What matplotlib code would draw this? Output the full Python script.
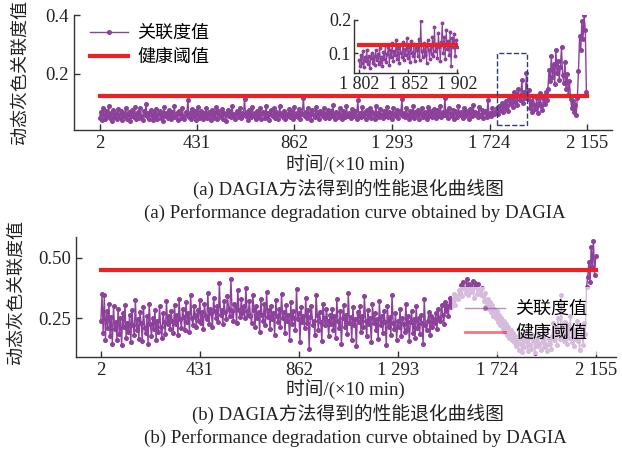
import matplotlib

matplotlib.use("Agg")
import matplotlib.pyplot as plt
import numpy as np
from matplotlib.patches import Rectangle


plt.rcParams["font.family"] = ["Liberation Serif", "Noto Sans CJK SC"]

PURPLE = "#8C419B"
RED = "#ED2024"
BOX_COLOR = "#2F3E6E"
CJK = ["Noto Sans CJK SC", "DejaVu Sans"]

# time axis (x 10 min), one reading every 5 steps
TIME = np.arange(2, 2153, 5)
XTICKS = [2, 431, 862, 1293, 1724, 2155]
XTICK_LABELS = ["2", "431", "862", "1 293", "1 724", "2 155"]
THRESH_SPAN = [2, 2155]

# (a) relational degree
DEG_A = [
    .052, .071, .045, .083, .060, .048, .075, .058, .091, .050, .066, .042, .078, .055, .069, .047, .081, .061, .053, .074, .044, .068, .057, .086, .049,
    .063, .072, .041, .059, .077, .054, .088, .046, .065, .070, .051, .084, .058, .043, .073, .062, .098, .056, .067, .049, .079, .060, .045, .071, .055,
    .082, .048, .064, .075, .052, .069, .040, .087, .058, .066, .050, .078, .061, .047, .072, .057, .090, .053, .068, .044, .076, .063, .051, .085, .059,
    .046, .070, .062, .113, .054, .067, .049, .080, .057, .073, .043, .065, .088, .052, .061, .076, .048, .069, .056, .083, .050, .064, .071, .045, .078,
    .058, .066, .052, .089, .047, .074, .061, .055, .081, .049, .068, .063, .042, .077, .059, .070, .053, .092, .057, .065, .048, .075, .062, .054, .086,
    .051, .069, .060, .116, .056, .072, .045, .079, .064, .053, .087, .058, .067, .049, .074, .061, .055, .083, .047, .070, .063, .052, .090, .059, .066,
    .044, .078, .062, .057, .085, .050, .071, .064, .048, .093, .060, .068, .054, .076, .046, .065, .059, .082, .053, .073, .061, .049, .088, .057, .069,
    .055, .080, .047, .067, .063, .118, .058, .072, .051, .084, .060, .066, .045, .077, .062, .054, .089, .059, .070, .048, .075, .064, .056, .086, .052,
    .068, .061, .079, .050, .073, .057, .094, .063, .049, .071, .066, .055, .083, .060, .047, .076, .065, .053, .090, .058, .069, .062, .051, .081, .064,
    .056, .074, .048, .112, .061, .067, .054, .087, .059, .072, .046, .078, .063, .057, .085, .052, .070, .065, .049, .092, .060, .068, .055, .080, .062,
    .050, .076, .064, .058, .089, .053, .071, .066, .047, .083, .061, .069, .056, .079, .051, .073, .063, .114, .059, .067, .054, .086, .062, .048, .075,
    .065, .057, .091, .052, .070, .060, .078, .049, .068, .064, .084, .055, .072, .061, .046, .088, .059, .074, .066, .053, .081, .063, .050, .077, .069,
    .058, .093, .054, .071, .062, .117, .060, .075, .052, .086, .065, .057, .079, .048, .073, .067, .055, .090, .061, .070, .064, .051, .084, .059, .076,
    .063, .049, .082, .068, .056, .095, .060, .072, .066, .053, .087, .062, .058, .078, .050, .074, .069, .055, .113, .061, .067, .057, .083, .064, .071,
    .070, .085, .064, .092, .078, .100, .072, .095, .083, .110, .090, .076, .118, .098, .125, .088, .140, .105, .132, .095, .150, .112, .128, .180, .102,
    .138, .120, .205, .115, .145,
    .085, .110, .072, .125, .095, .080, .118, .068, .102, .135, .090, .078, .120, .098, .140, .112,
    .150, .215, .175, .260, .190, .235, .165, .280, .205, .245, .180, .225, .290, .195, .170, .240, .150, .200, .130, .175, .115,
    .085, .110, .070, .095, .062, .120,
    .210, .330, .280, .380, .320, .400, .350, .140,
]

# (b) relational degree
DEG_B = [
    .240, .350, .190, .345, .160, .280, .210, .310, .175, .255, .145, .300, .205, .235, .160, .290, .185, .250, .140, .270, .215, .305, .170, .230, .195,
    .265, .150, .285, .220, .180, .325, .200, .245, .165, .275, .230, .155, .295, .210, .190, .260, .145, .310, .225, .175, .250, .205, .285, .160, .240,
    .195, .300, .215, .170, .270, .235, .185, .320, .225, .260,
    .205, .280, .240, .190, .305, .225, .265, .180, .330, .245, .210, .290, .255, .200, .315, .235, .270, .195, .345, .250, .220, .300, .265, .215, .285,
    .240, .325, .230, .275, .205, .310, .260, .245, .355, .225, .290, .270, .215, .335, .280, .250, .300, .235, .395, .265, .285, .225, .320, .275, .245,
    .340, .290, .260, .410, .280, .240, .310, .295, .230, .365, .285, .255, .330, .270, .300, .250, .375, .280, .265, .320,
    .260, .230, .345, .285, .215, .300, .250, .275, .195, .330, .265, .240, .310, .220, .360, .255, .285, .205, .300, .245, .270, .180, .325, .260, .235,
    .290, .215, .350, .250, .275, .190, .305, .240, .265, .160, .315, .225, .280, .250, .200, .370, .245, .270, .150, .295, .235, .260, .210, .335, .230,
    .285, .125, .255, .300, .220, .240, .180, .345, .265, .200, .275, .235, .155, .310, .250, .220, .290, .240, .175, .265,
    .225, .290, .200, .260, .170, .330, .240, .210, .280, .145, .250, .305, .215, .265, .185, .355, .230, .255, .160, .295, .220, .245, .135, .275, .235,
    .300, .195, .260, .215, .340, .240, .175, .285, .225, .250, .150, .310, .230, .270, .200, .245, .165, .320, .220, .260, .190, .280, .235, .140, .300,
    .215, .255, .180, .345, .230, .205, .270, .160, .240, .215, .290, .175, .250, .225, .195, .310, .205, .260, .155, .235, .280, .190, .245, .170, .300,
    .210, .250, .185, .265, .230, .145, .330, .220, .200, .240, .275, .180, .260, .215, .245,
    .230, .270, .205, .290, .250, .240, .305, .265, .225, .315, .280, .300, .260, .335, .295, .320, .310, .350, .305, .340, .330, .365,
    .350, .385, .340, .400, .370, .355, .410, .345, .390, .375, .360, .405, .335, .395, .380, .350, .390, .365, .345, .375,
    .340, .320, .355, .300, .330, .290, .315, .275, .305, .260, .290, .250, .280, .235, .265, .220, .250, .205, .240, .195, .225, .180, .215, .170, .200,
    .160, .190, .150,
    .175, .135, .160, .120, .185, .145, .110, .165, .130, .195, .150, .115, .170, .140, .125, .180, .155, .105, .160, .135, .190, .145, .120, .170, .150,
    .130, .200, .140, .115, .165, .145, .125,
    .175, .230, .160, .215, .140, .250, .190, .165, .345, .200, .155, .235, .180, .145, .220, .170, .260, .150, .205, .135, .190, .165, .240, .155, .120,
    .210, .175, .140, .230, .185,
    .380, .420, .480, .400, .545, .460, .570, .430, .505,
]

# inset of panel (a): full resolution 1802..1902
ZOOM_TIME = np.arange(1802, 1903)
ZOOM_A = [
    .080, .062, .095, .071, .105, .058, .088, .076, .110, .066, .092, .055, .084, .100, .070, .091, .063, .108, .079, .097, .068, .115, .074, .089, .060,
    .102, .083, .125, .072, .098, .118, .065, .110, .087, .130, .076, .105, .094, .140, .081, .116, .069, .125, .099, .088, .135, .078, .112, .095, .145,
    .085, .120, .072, .138, .101, .090, .128, .075, .115, .108, .092, .142, .080, .198, .105, .088, .130, .094, .122, .070, .140, .110, .083, .125, .098,
    .150, .092, .180, .105, .128, .086, .160, .118, .075, .135, .190, .100, .148, .082, .170, .112, .138, .095, .165, .060, .145, .120, .158, .090, .140,
    .118,
]
ZOOM_TICKS = [1802, 1852, 1902]
ZOOM_TICK_LABELS = ["1 802", "1 852", "1 902"]

THRESH_A = 0.125
THRESH_B = 0.45
BOX_X = [1755, 1888]
BOX_Y = [0.027, 0.27]


def style_axes(ax):
    for side in ["top", "right"]:
        ax.spines[side].set_visible(False)
    for side in ["left", "bottom"]:
        ax.spines[side].set_color("#333333")
        ax.spines[side].set_linewidth(1.0)
    ax.tick_params(direction="in", length=4, width=1.0, colors="#333333",
                   labelcolor="#222222", labelsize=13.5)


def draw_series(ax, x, y, thresh, ms=2.6):
    line, = ax.plot(x, y, color=PURPLE, lw=1.0, marker="o", ms=ms,
                    label="关联度值", zorder=2)
    red, = ax.plot(THRESH_SPAN, [thresh, thresh], color=RED, lw=3.0,
                   label="健康阈值", zorder=3)
    return line, red


def main():
    fig = plt.figure(figsize=(6.22, 4.51), dpi=100)
    W, H = 622.0, 451.0

    # ---- panel (a)
    ax_a = fig.add_axes([74 / W, 1 - 130 / H, 538 / W, 115 / H])
    draw_series(ax_a, TIME, DEG_A, THRESH_A)
    ax_a.set_xlim(-111, 2265)
    ax_a.set_ylim(0.01, 0.4)
    ax_a.set_xticks(XTICKS)
    ax_a.set_xticklabels(XTICK_LABELS)
    ax_a.set_yticks([0.2, 0.4])
    ax_a.set_yticklabels(["0.2", "0.4"])
    style_axes(ax_a)
    ax_a.add_patch(Rectangle((BOX_X[0], BOX_Y[0]), BOX_X[1] - BOX_X[0],
                             BOX_Y[1] - BOX_Y[0], fill=False, ls="--",
                             lw=1.0, edgecolor=BOX_COLOR, zorder=4))
    ax_a.legend(loc="upper left", bbox_to_anchor=(90 / W, 1 - 24 / H),
                bbox_transform=fig.transFigure, frameon=False,
                numpoints=1, handlelength=2.1, handletextpad=0.5,
                labelspacing=0.35, borderpad=0, borderaxespad=0,
                prop={"family": CJK, "size": 13})

    ax_in = fig.add_axes([354 / W, 1 - 73 / H, 104 / W, 53 / H])
    ax_in.patch.set_alpha(0)
    ax_in.plot(ZOOM_TIME, ZOOM_A, color=PURPLE, lw=0.8, marker="o", ms=1.8)
    ax_in.plot([1802, 1902], [THRESH_A, THRESH_A], color=RED, lw=3.0)
    ax_in.set_xlim(1797, 1903)
    ax_in.set_ylim(0.04, 0.2)
    ax_in.set_xticks(ZOOM_TICKS)
    ax_in.set_xticklabels(ZOOM_TICK_LABELS)
    ax_in.set_yticks([0.1, 0.2])
    ax_in.set_yticklabels(["0.1", "0.2"])
    style_axes(ax_in)
    ax_in.tick_params(labelsize=13, length=3, pad=2)

    # ---- panel (b)
    ax_b = fig.add_axes([76 / W, 1 - 357 / H, 540 / W, 120 / H])
    draw_series(ax_b, TIME, DEG_B, THRESH_B)
    ax_b.set_xlim(-106, 2240)
    ax_b.set_ylim(0.09, 0.585)
    ax_b.set_xticks(XTICKS)
    ax_b.set_xticklabels(XTICK_LABELS)
    ax_b.set_yticks([0.25, 0.5])
    ax_b.set_yticklabels(["0.25", "0.50"])
    style_axes(ax_b)
    leg_b = ax_b.legend(loc="lower right", bbox_to_anchor=(600 / W, 1 - 355 / H),
                        bbox_transform=fig.transFigure, frameon=True,
                        fancybox=False, framealpha=0.65, edgecolor="none",
                        facecolor="white", numpoints=1, handlelength=2.2,
                        handletextpad=0.6, labelspacing=0.35, borderpad=0.7,
                        borderaxespad=0, prop={"family": CJK, "size": 13})
    for h in leg_b.legend_handles:
        h.set_alpha(0.6)
    leg_b.legend_handles[1].set_linewidth(2.0)

    # ---- labels and captions
    for xc, yc in [(20, 72), (16, 292)]:
        fig.text(xc / W, 1 - yc / H, "动态灰色关联度值", rotation=90,
                 ha="center", va="center", family=CJK, size=13, color="#222222")
    for yc, tag in [(164, "a"), (389, "b")]:
        fig.text(345 / W, 1 - yc / H, "时间/(×10 min)", ha="center", va="center",
                 size=13.5, color="#222222")
        fig.text(348 / W, 1 - (yc + 25) / H, f"({tag}) DAGIA方法得到的性能退化曲线图",
                 ha="center", va="center", size=13.5, color="#222222")
        fig.text(355 / W, 1 - (yc + 49) / H,
                 f"({tag}) Performance degradation curve obtained by DAGIA",
                 ha="center", va="center", size=13.6, color="#222222")

    fig.savefig("out.png", dpi=100)
    plt.close(fig)


if __name__ == "__main__":
    main()
